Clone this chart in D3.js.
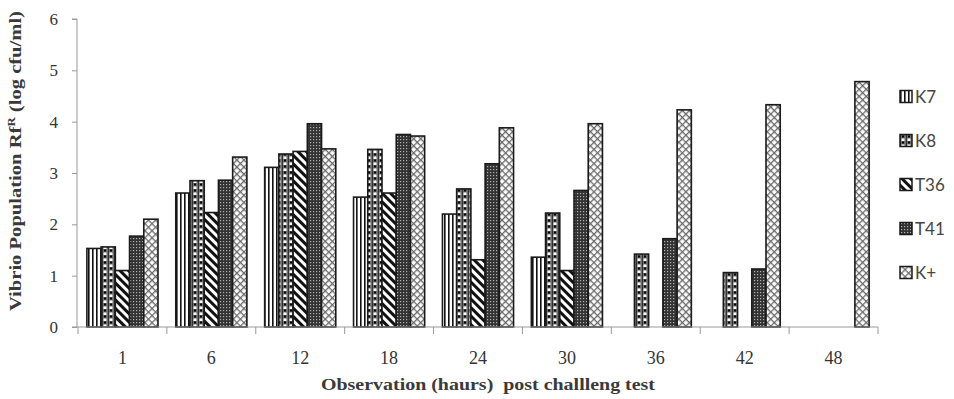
<!DOCTYPE html>
<html><head><meta charset="utf-8">
<script src="https://cdn.jsdelivr.net/npm/d3@7"></script>
<style>body{margin:0;background:#fff}svg{display:block}</style>
</head><body>
<svg id="c" width="954" height="399"></svg>
<script>
const categories = ["1","6","12","18","24","30","36","42","48"];
const seriesNames = ["K7","K8","T36","T41","K+"];
const K7  = [1.53,2.61,3.11,2.53,2.20,1.36,null,null,null];
const K8  = [1.56,2.85,3.37,3.46,2.69,2.22,1.42,1.06,null];
const T36 = [1.10,2.23,3.42,2.61,1.31,1.10,null,null,null];
const T41 = [1.77,2.86,3.96,3.75,3.18,2.66,1.72,1.13,null];
const KP  = [2.10,3.31,3.47,3.72,3.88,3.96,4.23,4.33,4.78];
const yTicks = [0,1,2,3,4,5,6];
const xTitle = "Observation (haurs)\u00a0\u00a0post challleng test";

const seriesValues = [K7,K8,T36,T41,KP];
const svg = d3.select("#c");
const defs = svg.append("defs");

function pat(id,w,h,tf){const p=defs.append("pattern").attr("id",id).attr("patternUnits","userSpaceOnUse").attr("width",w).attr("height",h);if(tf)p.attr("patternTransform",tf);return p;}
let p;
p=pat("pK7",4,4);p.append("rect").attr("width",4).attr("height",4).attr("fill","#fff");p.append("rect").attr("width",1.6).attr("height",4).attr("fill","#111");
p=pat("pK8",6,6);p.append("rect").attr("width",6).attr("height",6).attr("fill","#6e6e6e");
p.append("rect").attr("x",1.5).attr("y",0.5).attr("width",3).attr("height",2.5).attr("fill","#fff");
p.append("rect").attr("x",2).attr("y",3.5).attr("width",2).attr("height",2).attr("fill","#000");
p.append("rect").attr("x",0).attr("y",0).attr("width",0.8).attr("height",6).attr("fill","#222");
p=pat("pT36",6,6,"rotate(-45)");p.append("rect").attr("width",6).attr("height",6).attr("fill","#fff");p.append("rect").attr("width",3).attr("height",6).attr("fill","#111");
p=pat("pT41",3,3);p.append("rect").attr("width",3).attr("height",3).attr("fill","#333");p.append("rect").attr("x",1).attr("y",1).attr("width",1.2).attr("height",1.2).attr("fill","#b0b0b0");
p=pat("pKP",5,5,"rotate(45)");p.append("rect").attr("width",5).attr("height",5).attr("fill","#fff");
p.append("rect").attr("width",1.3).attr("height",5).attr("fill","#6a6a6a");p.append("rect").attr("width",5).attr("height",1.3).attr("fill","#6a6a6a");
const fills = ["url(#pK7)","url(#pK8)","url(#pT36)","url(#pT41)","url(#pKP)"];

const x0 = d3.scaleBand().domain(categories).range([78,878]).padding(0);
const bw = x0.bandwidth();
const x1 = d3.scaleBand().domain(seriesNames).range([bw*0.1, bw*0.9]).padding(0);
const y = d3.scaleLinear().domain([0,6]).range([327,19]);

const yAx = svg.append("g").attr("transform","translate(77,0)")
  .call(d3.axisLeft(y).tickValues(yTicks).tickSize(5).tickPadding(14).tickFormat(d3.format("d")));
yAx.select(".domain").attr("stroke","#999").attr("d","M-5,19H0V327H-5");
yAx.selectAll(".tick line").attr("stroke","#999");
yAx.selectAll("text").attr("font-family","'Liberation Serif',serif").attr("font-size",17).attr("fill","#333");

const g = svg.append("g");
categories.forEach((c,ci)=>{
  seriesNames.forEach((s,si)=>{
    const v = seriesValues[si][ci];
    if(v==null) return;
    g.append("rect").attr("x",x0(c)+x1(s)).attr("width",x1.bandwidth())
      .attr("y",y(v)).attr("height",y(0)-y(v))
      .attr("fill",fills[si]).attr("stroke","#1a1a1a").attr("stroke-width",1.6);
  });
});

const xAx = svg.append("g").attr("transform","translate(0,327)");
xAx.append("line").attr("x1",77).attr("x2",878).attr("stroke","#999");
xAx.selectAll("line.t").data(d3.range(categories.length+1)).join("line").attr("class","t")
  .attr("x1",i=>78+i*bw).attr("x2",i=>78+i*bw).attr("y1",0).attr("y2",7).attr("stroke","#999");
xAx.selectAll("text").data(categories).join("text")
  .attr("x",d=>x0(d)+bw/2).attr("y",37).attr("text-anchor","middle")
  .attr("font-family","'Liberation Serif',serif").attr("font-size",18).attr("fill","#333").text(d=>d);

svg.append("text").attr("x",488).attr("y",390).attr("text-anchor","middle")
  .attr("font-family","'Liberation Serif',serif").attr("font-weight","bold").attr("font-size",17)
  .attr("fill","#3a3a3a").attr("textLength",334).attr("lengthAdjust","spacingAndGlyphs").text(xTitle);

const yt = svg.append("text").attr("transform","translate(21,161) rotate(-90)").attr("text-anchor","middle")
  .attr("font-family","'Liberation Serif',serif").attr("font-weight","bold").attr("font-size",16).attr("fill","#3a3a3a")
  .attr("textLength",300).attr("lengthAdjust","spacingAndGlyphs");
yt.append("tspan").text("Vibrio Population Rf");
yt.append("tspan").attr("font-size",10).attr("dy",-6).text("R");
yt.append("tspan").attr("dy",6).text(" (log cfu/ml)");

const lg = svg.append("g");
seriesNames.forEach((s,i)=>{
  const cy = 96.5 + i*44;
  lg.append("rect").attr("x",900).attr("y",cy-6).attr("width",12).attr("height",12)
    .attr("fill",fills[i]).attr("stroke","#1a1a1a").attr("stroke-width",1.5);
  lg.append("text").attr("x",915).attr("y",cy+6).attr("font-family","Lato,sans-serif").attr("font-size",17)
    .attr("fill","#444").text(s);
});
</script>
</body></html>
